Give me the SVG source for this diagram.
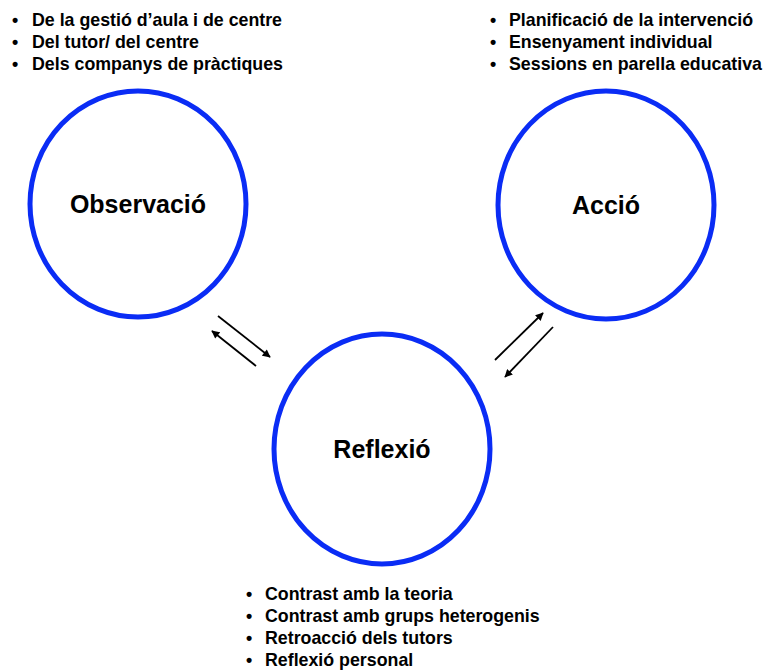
<svg xmlns="http://www.w3.org/2000/svg" width="763" height="670" viewBox="0 0 763 670">
<style>
.node{fill:#fff;stroke:#0a2cf5;stroke-width:5}
.lbl{font-family:"Liberation Sans",Arial,sans-serif;font-weight:bold;font-size:25px;fill:#000;text-anchor:middle}
.lst{font-family:"Liberation Sans",Arial,sans-serif;font-weight:bold;font-size:17.8px;fill:#000}
.conn{stroke:#000;stroke-width:1.8;fill:none;marker-end:url(#ah)}
</style>
<defs>
<marker id="ah" viewBox="0 0 10 10" refX="9" refY="5" markerWidth="9" markerHeight="8" markerUnits="userSpaceOnUse" orient="auto">
<path d="M0,0 L10,5 L0,10 Z" fill="#000"/>
</marker>
</defs>
<rect width="763" height="670" fill="#fff"/>
<g id="obs">
<ellipse class="node" cx="138" cy="204" rx="108" ry="113"/>
<text class="lbl" x="138" y="213">Observació</text>
</g>
<g id="acc">
<ellipse class="node" cx="606" cy="205" rx="108" ry="114"/>
<text class="lbl" x="606" y="214">Acció</text>
</g>
<g id="ref">
<ellipse class="node" cx="382" cy="449" rx="108" ry="115"/>
<text class="lbl" x="382" y="458">Reflexió</text>
</g>
<g id="connectors">
<line class="conn" x1="218" y1="316" x2="270" y2="357"/>
<line class="conn" x1="256" y1="366" x2="212" y2="331"/>
<line class="conn" x1="495" y1="360" x2="543" y2="313"/>
<line class="conn" x1="553" y1="327" x2="505" y2="377"/>
</g>
<g id="list-obs" class="lst">
<text x="12" y="26">•</text><text x="32" y="26">De la gestió d’aula i de centre</text>
<text x="12" y="48">•</text><text x="32" y="48">Del tutor/ del centre</text>
<text x="12" y="70">•</text><text x="32" y="70">Dels companys de pràctiques</text>
</g>
<g id="list-acc" class="lst">
<text x="490" y="26">•</text><text x="509" y="26">Planificació de la intervenció</text>
<text x="490" y="48">•</text><text x="509" y="48">Ensenyament individual</text>
<text x="490" y="70">•</text><text x="509" y="70">Sessions en parella educativa</text>
</g>
<g id="list-ref" class="lst">
<text x="246" y="600">•</text><text x="265" y="600">Contrast amb la teoria</text>
<text x="246" y="622">•</text><text x="265" y="622">Contrast amb grups heterogenis</text>
<text x="246" y="644">•</text><text x="265" y="644">Retroacció dels tutors</text>
<text x="246" y="666">•</text><text x="265" y="666">Reflexió personal</text>
</g>
</svg>
